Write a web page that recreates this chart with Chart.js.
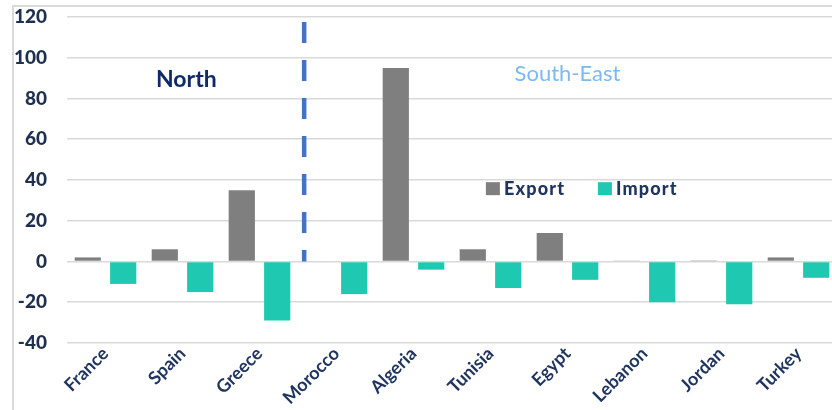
<!DOCTYPE html>
<html>
<head>
<meta charset="utf-8">
<script src="https://cdn.jsdelivr.net/npm/chart.js@4.4.1/dist/chart.umd.min.js"></script>
<style>
  html, body { margin:0; padding:0; background:#fff; overflow:hidden; width:832px; height:410px; }
  #wrap { position:relative; width:832px; height:410px; overflow:hidden; }
  #frame { position:absolute; left:12px; top:5px; width:900px; height:500px;
           border-left:2px solid #DADADA; border-top:2px solid #DADADA; }
  #cv { position:absolute; left:0; top:0; }
</style>
</head>
<body>
<div id="wrap">
  <div id="frame"></div>
  <div style="position:absolute;left:0;top:0;width:837px;height:410px;">
    <canvas id="cv" width="837" height="410"></canvas>
  </div>
</div>
<script>
// ---- data ----
const categories = ['France','Spain','Greece','Morocco','Algeria','Tunisia','Egypt','Lebanon','Jordan','Turkey'];
const exportValues = [2, 6, 35, 0, 95, 6, 14, 0.3, 0.2, 2];
const importValues = [-11, -15, -29, -16, -4, -13, -9, -20, -21, -8];
const seriesNames = ['Export', 'Import'];
const yTicks = [-40, -20, 0, 20, 40, 60, 80, 100, 120];
const regionLabels = ['North', 'South-East'];
const regionDivider = 2.58;   // category position of the dashed divider

const exportColor = '#7F7F7F';
const importColor = '#1FC9B1';
const navy = '#1F3560';

const overlay = {
  id: 'overlay',
  afterDatasetsDraw(chart) {
    const ctx = chart.ctx;
    const xs = chart.scales.x, ys = chart.scales.y;
    ctx.save();
    // dashed divider
    const dx = xs.getPixelForValue(regionDivider);
    ctx.strokeStyle = '#4472C4';
    ctx.lineWidth = 4.5;
    ctx.setLineDash([21, 17]);
    ctx.beginPath();
    ctx.moveTo(dx, ys.getPixelForValue(117.5));
    ctx.lineTo(dx, ys.getPixelForValue(0));
    ctx.stroke();
    ctx.setLineDash([]);
    // region labels
    ctx.textAlign = 'center';
    ctx.textBaseline = 'middle';
    ctx.font = 'bold 23px Lato';
    ctx.fillStyle = '#0E2A6A';
    ctx.fillText(regionLabels[0], xs.getPixelForValue(1.05), ys.getPixelForValue(89.5));
    ctx.font = '22px Lato';
    ctx.fillStyle = '#7DB9F1';
    ctx.fillText(regionLabels[1], xs.getPixelForValue(6.0), ys.getPixelForValue(92));
    // legend
    ctx.textAlign = 'left';
    ctx.font = '900 18px Lato';
    try { ctx.letterSpacing = '1.2px'; } catch (e) {}
    const ly = ys.getPixelForValue(35.5);
    let lx = xs.getPixelForValue(4.94);
    chart.data.datasets.forEach((ds, i) => {
      ctx.fillStyle = ds.backgroundColor;
      ctx.fillRect(lx, ly - 7, 14, 13);
      ctx.fillStyle = navy;
      ctx.fillText(ds.label, lx + 18, ly);
      lx += 112;
    });
    ctx.restore();
  }
};

new Chart(document.getElementById('cv'), {
  type: 'bar',
  data: {
    labels: categories,
    datasets: [
      { label: seriesNames[0], data: exportValues, backgroundColor: exportColor },
      { label: seriesNames[1], data: importValues, backgroundColor: importColor }
    ]
  },
  options: {
    responsive: false,
    animation: false,
    layout: { padding: { left: 0, right: 0, top: 17, bottom: 0 } },
    categoryPercentage: 0.92,
    barPercentage: 0.74,
    plugins: { legend: { display: false }, tooltip: { enabled: false } },
    scales: {
      x: {
        grid: { display: false, drawTicks: false },
        border: { display: false },
        afterFit(s) { s.height = 67; },
        ticks: {
          minRotation: 45, maxRotation: 45, padding: 0,
          color: navy,
          font: { family: 'Lato', weight: 'bold', size: 18 }
        }
      },
      y: {
        min: yTicks[0], max: yTicks[yTicks.length - 1],
        afterFit(s) { s.width = 67; s.paddingTop = 0; s.paddingBottom = 0; },
        afterBuildTicks(s) { s.ticks = yTicks.map(v => ({ value: v })); },
        grid: { color: '#D9D9D9', lineWidth: 1.6, drawTicks: false },
        border: { display: false },
        ticks: {
          padding: 20,
          color: '#1E2F4F',
          font: { family: 'Lato', weight: '900', size: 19 }
        }
      }
    }
  },
  plugins: [overlay]
});
</script>
</body>
</html>
